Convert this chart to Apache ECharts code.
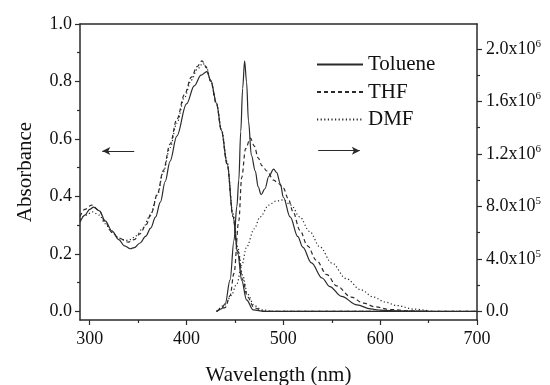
<!DOCTYPE html>
<html><head><meta charset="utf-8">
<script src="https://cdn.jsdelivr.net/npm/echarts@6/dist/echarts.min.js"></script>
<style>html,body{margin:0;padding:0;background:#fff}#c{width:550px;height:385px}</style>
</head><body><div id="c"></div>
<script>
// ---- data ----
const seriesNames = ['Toluene', 'THF', 'DMF'];

// Absorbance (left axis)
const absTolNm = [290,295,300,304,310,316,323,330,336,342,346,352,358,363,368,373,378,383,390,400,408,415,421,425,431,436,442,448,453,457,462,469,480,550,620,700];
const absTolA  = [0.31,0.335,0.355,0.363,0.35,0.315,0.28,0.25,0.228,0.218,0.222,0.238,0.262,0.29,0.328,0.38,0.452,0.522,0.61,0.722,0.785,0.822,0.834,0.805,0.724,0.63,0.515,0.33,0.2,0.108,0.04,0.005,0,0,0,0];
const absThfNm = [290,295,302,310,316,323,330,340,346,352,358,364,370,376,383,390,398,405,411,416,420,425,431,436,442,448,453,458,463,470,480,550,620,700];
const absThfA  = [0.33,0.355,0.37,0.35,0.31,0.275,0.255,0.241,0.25,0.27,0.3,0.345,0.41,0.49,0.582,0.668,0.755,0.815,0.852,0.872,0.852,0.80,0.72,0.63,0.51,0.33,0.21,0.11,0.05,0.012,0,0,0,0];
const absDmfNm = [290,296,303,310,316,323,330,337,342,348,355,362,370,376,383,390,398,405,411,417,421,425,431,436,442,448,453,458,463,470,478,490,550,620,700];
const absDmfA  = [0.32,0.335,0.346,0.335,0.305,0.275,0.255,0.247,0.25,0.263,0.29,0.33,0.405,0.485,0.57,0.655,0.745,0.805,0.842,0.863,0.845,0.80,0.725,0.635,0.52,0.34,0.22,0.125,0.06,0.02,0.005,0,0,0,0];

// Emission (right axis)
const emTolNm = [431,436,440,445,449,452,454,456,458,460,462,464,467,471,474,477,481,485,490,493,497,500,507,515,520,529,540,548,560,576,590,600,620,650];
const emTolE  = [0,0.02e6,0.06e6,0.24e6,0.54e6,0.8e6,1.0e6,1.37e6,1.70e6,1.91e6,1.75e6,1.45e6,1.19e6,1.07e6,0.95e6,0.89e6,0.935e6,1.03e6,1.085e6,1.06e6,0.97e6,0.87e6,0.72e6,0.57e6,0.49e6,0.37e6,0.255e6,0.19e6,0.115e6,0.05e6,0.02e6,0.01e6,0.003e6,0];
const emThfNm = [431,440,445,449,454,457,461,466,470,474,478,483,490,495,500,505,510,517,525,534,545,555,570,583,595,610,630,650];
const emThfE  = [0,0.03e6,0.12e6,0.29e6,0.69e6,1.02e6,1.24e6,1.32e6,1.26e6,1.17e6,1.11e6,1.07e6,1.0e6,0.975e6,0.94e6,0.86e6,0.76e6,0.62e6,0.5e6,0.39e6,0.28e6,0.195e6,0.11e6,0.063e6,0.035e6,0.015e6,0.004e6,0];
const emDmfNm = [431,440,446,452,457,462,470,476,485,492,500,508,517,527,538,550,565,580,593,605,617,635,650];
const emDmfE  = [0,0.05e6,0.12e6,0.21e6,0.35e6,0.49e6,0.63e6,0.72e6,0.81e6,0.84e6,0.85e6,0.81e6,0.72e6,0.61e6,0.49e6,0.37e6,0.25e6,0.165e6,0.11e6,0.072e6,0.045e6,0.018e6,0.005e6];

// Ticks
const xTicks = [300,400,500,600,700];
const xMinorTicks = [350,450,550,650];
const absTicks = [0,0.2,0.4,0.6,0.8,1.0];
const absMinorTicks = [0.1,0.3,0.5,0.7,0.9];
const emTicks = [0,4e5,8e5,1.2e6,1.6e6,2.0e6];
const emMinorTicks = [2e5,6e5,1.0e6,1.4e6,1.8e6];

// Annotation arrows [from, to] in data coordinates
const absArrow = [[346,0.558],[313,0.558]];
const emArrow  = [[536,1.225e6],[579,1.225e6]];

// ---- chart ----
const FONT = 'Liberation Serif';
const INK = '#2a2a2a';
const TXT = '#111';
const zip = (a,b) => a.map((x,i) => [x,b[i]]);
const styles = {
  Toluene: {type:'solid', width:1.2},
  THF: {type:[4,3], width:1.2},
  DMF: {type:[1.2,2.4], width:1.2}
};
function emLabel(v){
  if (Math.abs(v) < 1) return '{a|0.0}';
  const e = Math.floor(Math.log10(v) + 1e-9);
  const m = v / Math.pow(10, e);
  return '{a|' + m.toFixed(1) + 'x10}{s|' + e + '}';
}
function arrowLine(pair){
  return {
    silent: true, symbol: ['none','arrow'], symbolSize: [6,8],
    label: {show:false}, lineStyle: {color: INK, width: 1.2, type: 'solid'},
    emphasis: {disabled: true},
    data: [[{coord: pair[0]}, {coord: pair[1]}]]
  };
}
function mk(name, xs, ys, yIdx, arrow){
  const s = {
    name, type:'line', xAxisIndex:0, yAxisIndex:yIdx,
    data: zip(xs, ys), showSymbol:false, symbol:'none',
    smooth:0.35, smoothMonotone:'x',
    lineStyle: Object.assign({color: INK}, styles[name]),
    itemStyle: {color: INK},
    emphasis: {disabled: true}, z: 3
  };
  if (arrow) s.markLine = arrowLine(arrow);
  return s;
}
const axisLine = {show:true, onZero:false, lineStyle:{color:INK, width:1.5}};
const noLine = {show:false, onZero:false};
const tickStyle = {color:INK, width:1.2};
const labelStyle = {fontFamily:FONT, fontSize:18, color:TXT};

const option = {
  animation: false,
  backgroundColor: '#fff',
  grid: {left:80, right:73, top:24, bottom:65, containLabel:false, outerBoundsMode:'none'},
  legend: {
    data: seriesNames, orient:'vertical', left:316, top:54, padding:0,
    itemWidth:46, itemHeight:12, itemGap:6.5,
    itemStyle: {opacity:0},
    textStyle: {fontFamily:FONT, fontSize:21, color:TXT, lineHeight:21},
    selectedMode:false
  },
  xAxis: [
    {type:'value', min:290, max:700, position:'bottom', axisLine,
     axisTick:{show:true, customValues:xTicks, length:5, lineStyle:tickStyle},
     axisLabel: Object.assign({customValues:xTicks, margin:10}, labelStyle),
     splitLine:{show:false},
     name:'Wavelength (nm)', nameLocation:'middle', nameGap:45,
     nameTextStyle:{fontFamily:FONT, fontSize:21, color:TXT}},
    {type:'value', min:290, max:700, position:'bottom', axisLine:noLine,
     axisTick:{show:true, customValues:xMinorTicks, length:3, lineStyle:tickStyle},
     axisLabel:{show:false}, splitLine:{show:false}},
    {type:'value', min:290, max:700, position:'top', axisLine,
     axisTick:{show:false}, axisLabel:{show:false}, splitLine:{show:false}}
  ],
  yAxis: [
    {type:'value', min:-0.03, max:1.0, position:'left', axisLine,
     axisTick:{show:true, customValues:absTicks, length:5, lineStyle:tickStyle},
     axisLabel: Object.assign({customValues:absTicks, margin:8, formatter: v => v.toFixed(1)}, labelStyle),
     splitLine:{show:false},
     name:'Absorbance', nameLocation:'middle', nameGap:44, nameRotate:90,
     nameTextStyle:{fontFamily:FONT, fontSize:21, color:TXT}},
    {type:'value', min:-65000, max:2190000, position:'right', axisLine,
     axisTick:{show:true, customValues:emTicks, length:5, lineStyle:tickStyle},
     axisLabel:{customValues:emTicks, margin:9, formatter: emLabel,
       rich:{a:{fontFamily:FONT, fontSize:18, color:TXT},
             s:{fontFamily:FONT, fontSize:11, color:TXT, padding:[0,0,10,0]}}},
     splitLine:{show:false}},
    {type:'value', min:-0.03, max:1.0, position:'left', axisLine:noLine,
     axisTick:{show:true, customValues:absMinorTicks, length:3, lineStyle:tickStyle},
     axisLabel:{show:false}, splitLine:{show:false}},
    {type:'value', min:-65000, max:2190000, position:'right', axisLine:noLine,
     axisTick:{show:true, customValues:emMinorTicks, length:3, lineStyle:tickStyle},
     axisLabel:{show:false}, splitLine:{show:false}}
  ],
  series: [
    mk('Toluene', absTolNm, absTolA, 0, absArrow),
    mk('THF', absThfNm, absThfA, 0),
    mk('DMF', absDmfNm, absDmfA, 0),
    mk('Toluene', emTolNm, emTolE, 1, emArrow),
    mk('THF', emThfNm, emThfE, 1),
    mk('DMF', emDmfNm, emDmfE, 1)
  ]
};
const chart = echarts.init(document.getElementById('c'), null, {renderer:'canvas'});
chart.setOption(option);
</script>
</body></html>
